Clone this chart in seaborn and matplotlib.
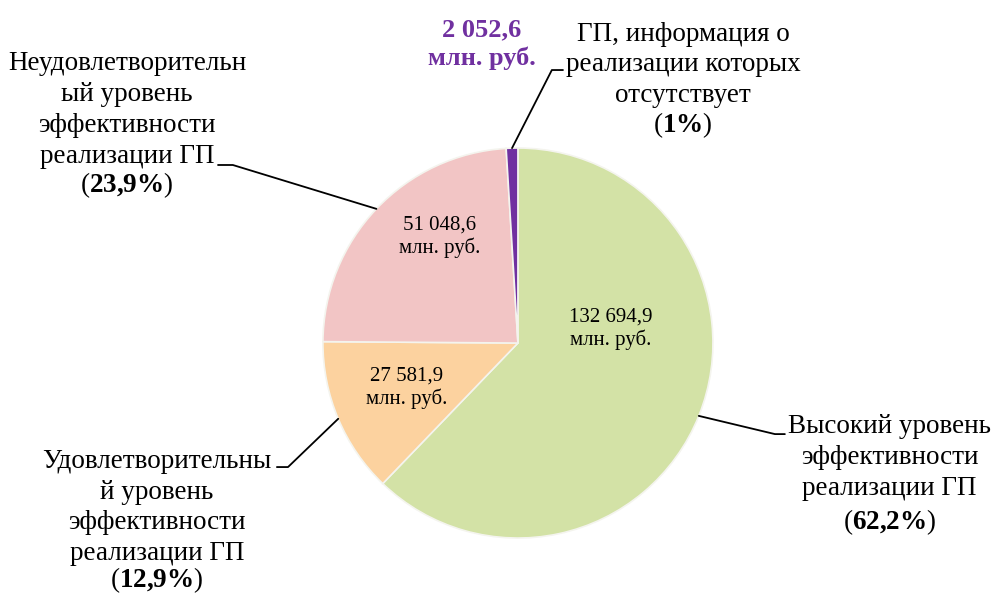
import numpy as np
import matplotlib
matplotlib.use("Agg")
import matplotlib.pyplot as plt
import seaborn as sns

# данные
categories = [
    "Высокий уровень\nэффективности\nреализации ГП",
    "Удовлетворительны\nй уровень\nэффективности\nреализации ГП",
    "Неудовлетворительн\nый уровень\nэффективности\nреализации ГП",
    "ГП, информация о\nреализации которых\nотсутствует",
]
values = [132694.9, 27581.9, 51048.6, 2052.6]
value_labels = ["132 694,9", "27 581,9", "51 048,6", "2 052,6"]
percents = ["62{,}2\\%", "12{,}9\\%", "23{,}9\\%", "1\\%"]
colors = ["#d3e2a6", "#fcd29f", "#f2c5c5", "#7030a0"]

sns.set_theme(style="white")
plt.rcParams["font.family"] = ["Liberation Serif", "DejaVu Serif"]
plt.rcParams["mathtext.fontset"] = "custom"
plt.rcParams["mathtext.rm"] = "Liberation Serif"
plt.rcParams["mathtext.bf"] = "Liberation Serif:bold"

fig = plt.figure(figsize=(9.91, 5.95), dpi=100)
ax = fig.add_axes([0, 0, 1, 1])

wedges, _ = ax.pie(values, colors=colors, startangle=90, counterclock=False,
                   radius=1.0, center=(0, 0),
                   wedgeprops=dict(edgecolor="#f4f4ee", linewidth=1.2))

ax.set_xlim(-2.656, 2.426)
ax.set_ylim(-1.292, 1.759)
ax.set_aspect("equal")
ax.axis("off")

# подписи внутри секторов
inner_pos = [(0.477, 0.072), (-0.569, -0.231), (-0.40, 0.544)]
for i, (x, y) in enumerate(inner_pos):
    ax.text(x, y, value_labels[i] + "\nмлн. руб.", ha="center", va="center",
            fontsize=15, color="black")

# подпись для маленького сектора
ax.text(-0.185, 1.533, value_labels[3] + "\nмлн. руб.", ha="center", va="center",
        fontsize=19, fontweight="bold", color="#7030a0", linespacing=1.32)

# внешние подписи с выносками
label_x = [1.905, -1.851, -2.005, 0.846]
label_y = [-0.587, -0.844, 1.195, 1.426]
pct_y = [-0.918, -1.215, 0.81, 1.118]
elbow = [((1.318, -0.467), (1.369, -0.467)),
         ((-1.179, -0.636), (-1.236, -0.636)),
         ((-1.462, 0.913), (-1.538, 0.913)),
         ((0.174, 1.40), (0.231, 1.40))]
for i, w in enumerate(wedges):
    ang = np.deg2rad((w.theta1 + w.theta2) / 2)
    ex, ey = np.cos(ang), np.sin(ang)
    (x1, y1), (x2, y2) = elbow[i]
    ax.plot([ex, x1, x2], [ey, y1, y2], color="black", lw=1.3)
    ax.text(label_x[i], label_y[i], categories[i], ha="center", va="center",
            fontsize=19.5, color="black", linespacing=1.3)
    ax.text(label_x[i], pct_y[i], "(" + "$\\mathbf{" + percents[i] + "}$" + ")",
            ha="center", va="center", fontsize=19.5, color="black")

fig.savefig("out.png", dpi=100)
